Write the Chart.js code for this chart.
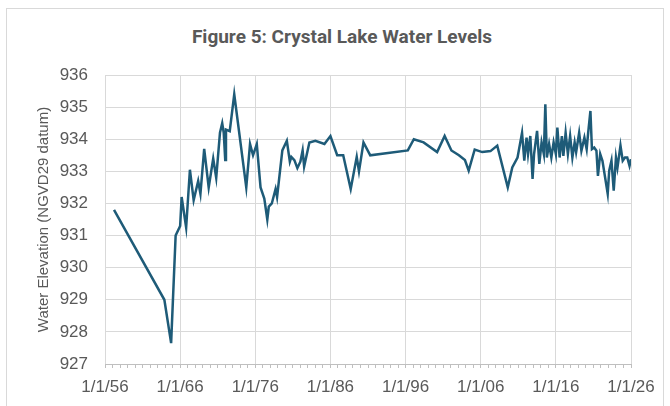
<html>
<head>
<meta charset="utf-8"/>
<title>Crystal Lake Water Levels</title>
<script src="https://cdn.jsdelivr.net/npm/chart.js@4.4.1/dist/chart.umd.min.js"></script>
<style>
  body { margin: 0; background: #fff; overflow: hidden; }
  #wrap { position: relative; width: 670px; height: 406px; }
  #frame { position: absolute; left: 6px; top: 8px; width: 656px; height: 420px; border: 1px solid #d9d9d9; }
  #titulo { position: absolute; left: 7px; top: 26px; width: 670px; text-align: center;
            font-family: "Liberation Sans Narrow", "Roboto", sans-serif; font-weight: bold;
            font-size: 19px; line-height: 22px; color: #595959; }
  canvas { position: absolute; left: 0; top: 0; }
</style>
<script>
// fechas en años decimales (1/1/56 = 1956.0)
var anios = [1957.2, 1963.9, 1964.8, 1965.4, 1966.0, 1966.2, 1966.8, 1967.3, 1967.8, 1968.4,
             1968.7, 1969.2, 1969.8, 1970.4, 1970.8, 1971.3, 1971.6, 1971.8, 1972.0, 1972.1,
             1972.6, 1973.2, 1974.8, 1975.3, 1975.7, 1976.2, 1976.7, 1977.2, 1977.6, 1977.8,
             1978.2, 1978.7, 1978.9, 1979.6, 1980.2, 1980.6, 1980.8, 1981.2, 1981.6, 1982.0,
             1982.3, 1982.5, 1983.2, 1984.0, 1985.2, 1986.0, 1986.9, 1987.7, 1988.7, 1989.5,
             1989.8, 1990.4, 1991.3, 1996.3, 1997.1, 1998.4, 2000.2, 2001.2, 2002.1, 2003.1,
             2003.9, 2004.4, 2005.2, 2006.2, 2007.3, 2008.2, 2009.6, 2010.2, 2010.9, 2011.5,
             2011.8, 2012.1, 2012.3, 2012.6, 2012.9, 2013.1, 2013.5, 2013.8, 2014.1, 2014.4,
             2014.6, 2014.8, 2015.1, 2015.4, 2015.7, 2016.0, 2016.2, 2016.5, 2016.8, 2017.0,
             2017.3, 2017.6, 2017.9, 2018.2, 2018.5, 2018.7, 2019.1, 2019.4, 2019.8, 2020.1,
             2020.3, 2020.6, 2020.8, 2021.1, 2021.4, 2021.6, 2021.9, 2022.2, 2022.9, 2023.1,
             2023.4, 2023.7, 2024.0, 2024.2, 2024.6, 2024.9, 2025.2, 2025.5, 2025.8, 2026.0];
var niveles = [931.8, 929.0, 927.65, 931.0, 931.3, 932.2, 931.25, 933.05, 932.1, 932.7,
               932.3, 933.7, 932.5, 933.4, 932.8, 934.2, 934.5, 934.2, 933.35, 934.3,
               934.25, 935.4, 932.5, 933.85, 933.5, 933.85, 932.5, 932.15, 931.5, 931.9,
               932.0, 932.45, 932.2, 933.65, 933.95, 933.3, 933.45, 933.35, 933.1, 933.3,
               933.65, 933.15, 933.9, 933.95, 933.85, 934.1, 933.5, 933.5, 932.45, 933.45,
               933.0, 933.9, 933.5, 933.65, 934.0, 933.9, 933.6, 934.1, 933.65, 933.5,
               933.35, 933.02, 933.68, 933.6, 933.63, 933.8, 932.5, 933.12, 933.43, 934.2,
               933.33, 934.05, 933.54, 934.1, 932.76, 933.54, 934.26, 933.23, 933.9, 933.54,
               935.09, 933.43, 933.85, 933.43, 933.9, 933.54, 934.36, 933.43, 934.1, 933.48,
               934.2, 933.54, 934.1, 933.43, 933.9, 933.6, 934.2, 933.64, 934.05, 933.69,
               934.2, 934.88, 933.69, 933.74, 933.64, 932.86, 933.54, 933.33, 932.3, 933.02,
               933.33, 932.4, 933.43, 933.12, 933.8, 933.33, 933.43, 933.43, 933.17, 933.38];
var ticksX = [1956, 1966, 1976, 1986, 1996, 2006, 2016, 2026];
var etiquetasX = ['1/1/56', '1/1/66', '1/1/76', '1/1/86', '1/1/96', '1/1/06', '1/1/16', '1/1/26'];
var minY = 927, maxY = 936;
</script>
</head>
<body>
<div id="wrap">
  <div id="frame"></div>
  <div id="titulo">Figure 5: Crystal Lake Water Levels</div>
  <canvas id="grafica" width="670" height="406"></canvas>
</div>
<script>
var puntos = anios.map(function (a, i) { return { x: a, y: niveles[i] }; });

var contenedor = document.getElementById('grafica');
var grafica = new Chart(contenedor, {
  type: 'line',
  data: {
    datasets: [{
      label: 'Water Elevation',
      data: puntos,
      borderColor: '#1e5b78',
      backgroundColor: 'rgba(0,0,0,0)',
      borderWidth: 2.5,
      pointRadius: 0,
      tension: 0
    }]
  },
  options: {
    responsive: false,
    animation: false,
    devicePixelRatio: 1,
    layout: { padding: { left: 31, right: 39, top: 75, bottom: 0 } },
    plugins: { legend: { display: false }, title: { display: false }, tooltip: { enabled: false } },
    scales: {
      x: {
        type: 'linear',
        min: 1956,
        max: 2026,
        afterBuildTicks: function (scale) {
          var t = [];
          for (var a = 1956; a <= 2026; a++) t.push({ value: a });
          scale.ticks = t;
        },
        afterFit: function (scale) { scale.height = 42; },
        ticks: {
          autoSkip: false,
          maxRotation: 0,
          padding: 9,
          color: '#595959',
          font: { family: 'Liberation Sans', size: 17 },
          callback: function (v) {
            var i = ticksX.indexOf(v);
            return i >= 0 ? etiquetasX[i] : '';
          }
        },
        grid: {
          color: function (ctx) {
            return ctx.tick && ticksX.indexOf(ctx.tick.value) >= 0 ? '#d9d9d9' : 'rgba(0,0,0,0)';
          },
          tickColor: '#bfbfbf',
          tickLength: 4,
          lineWidth: 1
        },
        border: { color: '#bfbfbf', width: 1 }
      },
      y: {
        min: minY,
        max: maxY,
        afterFit: function (scale) { scale.width = 74; },
        ticks: {
          stepSize: 1,
          padding: 17,
          color: '#595959',
          font: { family: 'Liberation Sans', size: 17 }
        },
        grid: { color: '#d9d9d9', drawTicks: false, lineWidth: 1 },
        border: { display: false },
        title: {
          display: true,
          text: 'Water Elevation (NGVD29 datum)',
          color: '#595959',
          font: { family: 'Liberation Sans', size: 15 }
        }
      }
    }
  }
});
</script>
</body>
</html>
